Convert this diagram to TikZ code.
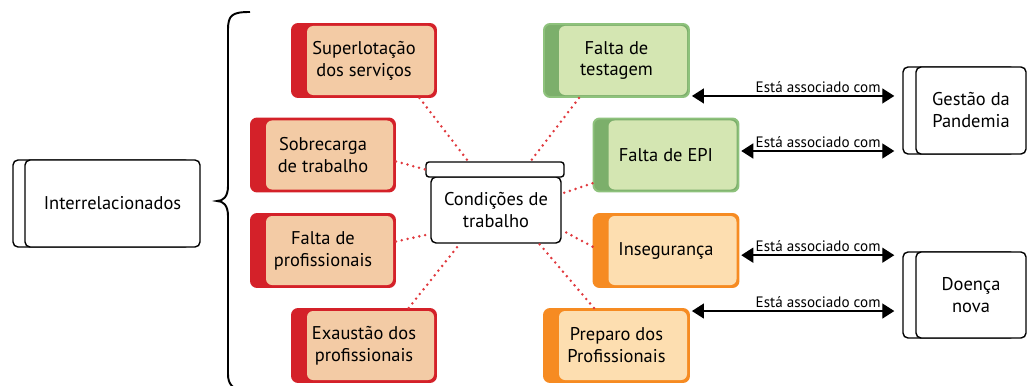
\documentclass[tikz,border=0pt]{standalone}
\usepackage{fontspec}
\setmainfont{PT Sans}
\usetikzlibrary{arrows.meta}
\definecolor{redline}{HTML}{D42129}
\definecolor{redfill}{HTML}{F3CBA5}
\definecolor{greenbar}{HTML}{7CAF6B}
\definecolor{greenline}{HTML}{8EC27C}
\definecolor{greenfill}{HTML}{D4E6B2}
\definecolor{orangeline}{HTML}{F68B22}
\definecolor{orangefill}{HTML}{FDDEB0}
\definecolor{dotred}{HTML}{E0393E}
\begin{document}
\begin{tikzpicture}[scale=0.2,
    cause/.style n args={3}{draw=#1, line width=1.1pt, rounded corners=1.2mm,
      minimum width=2.88cm, minimum height=1.46cm, align=center,
      path picture={
        \fill[#2] (path picture bounding box.south west) rectangle (path picture bounding box.north east);
        \fill[#3, rounded corners=1.2mm] ([xshift=3mm,yshift=-0.4mm]path picture bounding box.north west)
          rectangle ([xshift=-0.4mm,yshift=0.4mm]path picture bounding box.south east);}}]
    \tikzstyle{every node}+=[inner sep=0pt, font=\fontsize{10.5}{12.5}\selectfont]
    \tikzstyle{plain}=[draw=black, line width=0.8pt, rounded corners=1mm, fill=white, align=center]
    \tikzstyle{link}=[dotred, line width=1.6pt, line cap=round, dash pattern=on 0pt off 3.4pt]
    \tikzstyle{assoc}=[black, line width=0.8pt, {Triangle[length=2.4mm,width=3mm]}-{Triangle[length=2.4mm,width=3mm]}, shorten >=1.6mm]
    \tikzstyle{lbl}=[pos=1, anchor=south east, xshift=-4.2mm, yshift=0.6mm, font=\fontsize{8.6}{9}\selectfont]
    \useasboundingbox (0,0) rectangle (102.9,-38.6);
    % left box and brace
    \node [plain, minimum width=3.54cm, minimum height=1.74cm] (intrb) at (10.15,-20.35) {};
    \node [plain, minimum width=3.5cm, minimum height=1.74cm] (intr) at (11.25,-20.35) {Interrelacionados};
    \draw [black, line width=1.1pt] (25,-1.2) .. controls (23.2,-1.2) and (22.8,-1.5) .. (22.8,-3)
      -- (22.8,-18.6) .. controls (22.8,-19.7) and (22.3,-20.1) .. (21.7,-20.1)
      .. controls (22.3,-20.1) and (22.8,-20.5) .. (22.8,-21.6)
      -- (22.8,-37.4) .. controls (22.8,-38.4) and (23.2,-38.9) .. (24.5,-39.2);
    % causes
    \node [cause={redline}{redline}{redfill}] (sup) at (36.4,-6.05) {Superlotação\\dos serviços};
    \node [cause={redline}{redline}{redfill}] (sob) at (32.3,-15.5) {Sobrecarga\\de trabalho};
    \node [cause={redline}{redline}{redfill}] (fprof) at (32.3,-25.05) {Falta de\\profissionais};
    \node [cause={redline}{redline}{redfill}] (exa) at (36.4,-34.55) {Exaustão dos\\profissionais};
    \node [cause={greenline}{greenbar}{greenfill}, minimum width=2.9cm] (test) at (61.65,-6.05) {Falta de\\testagem};
    \node [cause={greenline}{greenbar}{greenfill}, minimum width=2.9cm] (epi) at (66.6,-15.5) {Falta de EPI};
    \node [cause={orangeline}{orangeline}{orangefill}, minimum width=2.9cm] (ins) at (66.6,-25.05) {Insegurança};
    \node [cause={orangeline}{orangeline}{orangefill}, minimum width=2.9cm] (prep) at (61.65,-34.55) {Preparo dos\\Profissionais};
    % center
    \node [plain, minimum width=2.6cm, minimum height=1.32cm] (cond) at (49.6,-21) {Condições de\\trabalho};
    \node [plain, rounded corners=0.6mm, minimum width=2.76cm, minimum height=0.3cm] (lid) at (49.5,-16.95) {};
    \draw [link] (sup.-34) -- (lid.163);
    \draw [link] (sob.-5) -- (lid.west);
    \draw [link] (fprof.7) -- (cond.200);
    \draw [link] (exa.40) -- (cond.223);
    \draw [link] (test.225) -- (lid.13);
    \draw [link] (epi.201) -- (cond.14);
    \draw [link] (ins.177) -- (cond.-17);
    \draw [link] (prep.121) -- (cond.-38);
    % right boxes
    \node [plain, minimum width=2.24cm, minimum height=1.74cm] (gestb) at (95.9,-11.05) {};
    \node [plain, minimum width=2.2cm, minimum height=1.74cm] (gest) at (97.1,-11.05) {Gestão da\\Pandemia};
    \node [plain, minimum width=2.24cm, minimum height=1.72cm] (doenb) at (95.9,-29.5) {};
    \node [plain, minimum width=2.2cm, minimum height=1.72cm] (doen) at (97.1,-29.5) {Doença\\nova};
    % associations
    \coordinate (t1) at ([xshift=2mm,yshift=2mm]test.south east);
    \coordinate (t2) at ([xshift=1.8mm,yshift=4mm]epi.east);
    \coordinate (t3) at ([xshift=1.8mm,yshift=-4.7mm]ins.east);
    \coordinate (t4) at ([xshift=2mm,yshift=-3mm]prep.north east);
    \draw [assoc] (t1) -- (t1 -| gestb.west) node [lbl] {Está associado com};
    \draw [assoc] (t2) -- (t2 -| gestb.west) node [lbl] {Está associado com};
    \draw [assoc] (t3) -- (t3 -| doenb.west) node [lbl] {Está associado com};
    \draw [assoc] (t4) -- (t4 -| doenb.west) node [lbl] {Está associado com};
\end{tikzpicture}
\end{document}
